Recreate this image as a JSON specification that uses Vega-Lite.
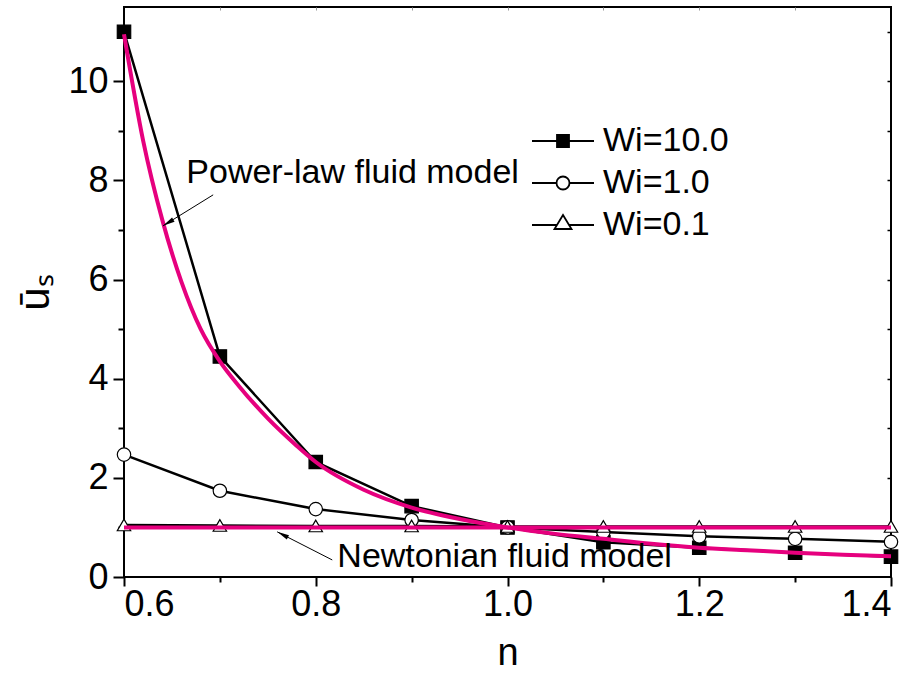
{
  "$schema": "https://vega.github.io/schema/vega-lite/v6.json",
  "autosize": "none",
  "width": 767,
  "height": 570,
  "padding": {"left": 124, "top": 7, "right": 29, "bottom": 98},
  "background": "white",
  "config": {
    "view": {"stroke": "black", "strokeWidth": 2},
    "font": "Liberation Sans",
    "axis": {"domain": false, "grid": false, "tickColor": "black", "labelColor": "black", "titleColor": "black", "labelFont": "Liberation Sans", "titleFont": "Liberation Sans", "titleFontWeight": "normal"}
  },
  "datasets": {
    "series": [
      {"n": 0.6, "u": 11.0, "Wi": "Wi=10.0"},
      {"n": 0.7, "u": 4.45, "Wi": "Wi=10.0"},
      {"n": 0.8, "u": 2.32, "Wi": "Wi=10.0"},
      {"n": 0.9, "u": 1.43, "Wi": "Wi=10.0"},
      {"n": 1.0, "u": 1.0, "Wi": "Wi=10.0"},
      {"n": 1.1, "u": 0.70, "Wi": "Wi=10.0"},
      {"n": 1.2, "u": 0.59, "Wi": "Wi=10.0"},
      {"n": 1.3, "u": 0.49, "Wi": "Wi=10.0"},
      {"n": 1.4, "u": 0.41, "Wi": "Wi=10.0"},
      {"n": 0.6, "u": 2.47, "Wi": "Wi=1.0"},
      {"n": 0.7, "u": 1.74, "Wi": "Wi=1.0"},
      {"n": 0.8, "u": 1.37, "Wi": "Wi=1.0"},
      {"n": 0.9, "u": 1.15, "Wi": "Wi=1.0"},
      {"n": 1.0, "u": 1.0, "Wi": "Wi=1.0"},
      {"n": 1.1, "u": 0.91, "Wi": "Wi=1.0"},
      {"n": 1.2, "u": 0.82, "Wi": "Wi=1.0"},
      {"n": 1.3, "u": 0.77, "Wi": "Wi=1.0"},
      {"n": 1.4, "u": 0.71, "Wi": "Wi=1.0"},
      {"n": 0.6, "u": 1.05, "Wi": "Wi=0.1"},
      {"n": 0.7, "u": 1.04, "Wi": "Wi=0.1"},
      {"n": 0.8, "u": 1.03, "Wi": "Wi=0.1"},
      {"n": 0.9, "u": 1.03, "Wi": "Wi=0.1"},
      {"n": 1.0, "u": 1.02, "Wi": "Wi=0.1"},
      {"n": 1.1, "u": 1.02, "Wi": "Wi=0.1"},
      {"n": 1.2, "u": 1.02, "Wi": "Wi=0.1"},
      {"n": 1.3, "u": 1.02, "Wi": "Wi=0.1"},
      {"n": 1.4, "u": 1.02, "Wi": "Wi=0.1"}
    ],
    "powerlaw": [
      {"n": 0.6, "u": 10.95},
      {"n": 0.62, "u": 8.8},
      {"n": 0.64, "u": 7.2},
      {"n": 0.66, "u": 5.95},
      {"n": 0.68, "u": 5.0},
      {"n": 0.7, "u": 4.35},
      {"n": 0.72, "u": 3.85},
      {"n": 0.75, "u": 3.2},
      {"n": 0.78, "u": 2.65},
      {"n": 0.8, "u": 2.32},
      {"n": 0.85, "u": 1.76},
      {"n": 0.9, "u": 1.4},
      {"n": 0.95, "u": 1.17},
      {"n": 1.0, "u": 1.0},
      {"n": 1.05, "u": 0.87},
      {"n": 1.1, "u": 0.77},
      {"n": 1.15, "u": 0.67},
      {"n": 1.2, "u": 0.59},
      {"n": 1.25, "u": 0.54},
      {"n": 1.3, "u": 0.49},
      {"n": 1.35, "u": 0.45},
      {"n": 1.4, "u": 0.42}
    ],
    "newtonian": [
      {"n": 0.6, "u": 1.0},
      {"n": 1.4, "u": 1.0}
    ],
    "notes": [
      {"key": "power", "label": "Power-law fluid model", "n": 0.665, "u": 7.94, "n1": 0.693, "u1": 7.71, "n2": 0.6407, "u2": 7.085},
      {"key": "newton", "label": "Newtonian fluid model", "n": 0.8225, "u": 0.2, "n1": 0.8172, "u1": 0.344, "n2": 0.7598, "u2": 0.911}
    ]
  },
  "resolve": {
    "scale": {"shape": "independent", "fill": "independent"},
    "axis": {"x": "independent", "y": "independent"}
  },
  "layer": [
    {
      "data": {"name": "series"},
      "mark": {"type": "line", "stroke": "black", "strokeWidth": 2.5},
      "encoding": {
        "x": {
          "field": "n", "type": "quantitative",
          "scale": {"domain": [0.6, 1.4], "nice": false, "zero": false},
          "axis": {
            "orient": "bottom", "title": "n", "titleFontSize": 38, "titlePadding": 12,
            "values": [0.6, 0.7, 0.8, 0.9, 1.0, 1.1, 1.2, 1.3, 1.4], "format": ".1f",
            "labelExpr": "round(datum.value * 10) % 2 == 0 ? datum.label : ''",
            "labelFontSize": 36, "labelPadding": 1, "tickWidth": 2,
            "tickSize": {"condition": {"test": "round(datum.value * 10) % 2 == 0", "value": 9}, "value": 5}
          }
        },
        "y": {
          "field": "u", "type": "quantitative",
          "scale": {"domain": [0, 11.5], "nice": false},
          "axis": {
            "orient": "left", "title": "ūₛ", "titleFontSize": 42, "titlePadding": 10,
            "values": [0, 1, 2, 3, 4, 5, 6, 7, 8, 9, 10, 11], "format": "d",
            "labelExpr": "datum.value % 2 == 0 ? datum.label : ''",
            "labelFontSize": 36, "labelPadding": 5, "tickWidth": 2,
            "tickSize": {"condition": {"test": "datum.value % 2 == 0", "value": 11}, "value": 6}
          }
        },
        "detail": {"field": "Wi"}
      }
    },
    {
      "data": {"name": "series"},
      "mark": {"type": "point", "filled": true, "stroke": "black", "strokeWidth": 1.2, "size": 180, "opacity": 1},
      "encoding": {
        "x": {"field": "n", "type": "quantitative", "axis": null},
        "y": {"field": "u", "type": "quantitative", "axis": null},
        "shape": {"field": "Wi", "type": "nominal", "scale": {"domain": ["Wi=10.0", "Wi=1.0", "Wi=0.1"], "range": ["square", "circle", "triangle-up"]}, "legend": null},
        "fill": {"field": "Wi", "type": "nominal", "scale": {"domain": ["Wi=10.0", "Wi=1.0", "Wi=0.1"], "range": ["black", "white", "white"]}, "legend": null}
      }
    },
    {
      "data": {"name": "powerlaw"},
      "mark": {"type": "line", "stroke": "#E6007E", "strokeWidth": 4, "interpolate": "monotone"},
      "encoding": {
        "x": {"field": "n", "type": "quantitative", "axis": null},
        "y": {"field": "u", "type": "quantitative", "axis": null}
      }
    },
    {
      "data": {"name": "newtonian"},
      "mark": {"type": "line", "stroke": "#E6007E", "strokeWidth": 4},
      "encoding": {
        "x": {"field": "n", "type": "quantitative", "axis": null},
        "y": {"field": "u", "type": "quantitative", "axis": null}
      }
    },
    {
      "data": {"name": "notes"},
      "mark": {"type": "rule", "stroke": "black", "strokeWidth": 1},
      "encoding": {
        "x": {"field": "n1", "type": "quantitative", "axis": null},
        "y": {"field": "u1", "type": "quantitative", "axis": null},
        "x2": {"field": "n2"},
        "y2": {"field": "u2"}
      }
    },
    {
      "data": {"name": "notes"},
      "mark": {"type": "point", "shape": "M0,0L0.4,2L-0.4,2Z", "filled": true, "fill": "black", "size": 144, "opacity": 1},
      "encoding": {
        "x": {"field": "n2", "type": "quantitative", "axis": null},
        "y": {"field": "u2", "type": "quantitative", "axis": null},
        "angle": {"condition": {"test": "datum.key == 'power'", "value": 239}, "value": 297}
      }
    },
    {
      "data": {"name": "notes"},
      "mark": {"type": "text", "align": "left", "baseline": "alphabetic", "fontSize": 34, "font": "Liberation Sans", "color": "black"},
      "encoding": {
        "x": {"field": "n", "type": "quantitative", "axis": null},
        "y": {"field": "u", "type": "quantitative", "axis": null},
        "text": {"field": "label"}
      }
    },
    {
      "data": {"name": "newtonian"},
      "mark": {"type": "point", "opacity": 0},
      "encoding": {
        "x": {
          "field": "n", "type": "quantitative",
          "axis": {"orient": "top", "title": null, "labels": false, "values": [0.7, 0.8, 0.9, 1.0, 1.1, 1.2, 1.3], "tickSize": -3, "tickWidth": 1, "tickColor": "#999999"}
        },
        "y": {
          "field": "u", "type": "quantitative",
          "axis": {"orient": "right", "title": null, "labels": false, "values": [1, 2, 3, 4, 5, 6, 7, 8, 9, 10, 11], "tickSize": -4, "tickWidth": 1.5}
        }
      }
    },
    {
      "data": {"name": "series"},
      "transform": [{"filter": "false"}],
      "mark": {"type": "point", "filled": true, "stroke": "black", "strokeWidth": 2, "opacity": 1},
      "encoding": {
        "x": {"field": "n", "type": "quantitative", "axis": null},
        "y": {"field": "u", "type": "quantitative", "axis": null},
        "shape": {
          "field": "Wi", "type": "nominal",
          "scale": {
            "domain": ["Wi=10.0", "Wi=1.0", "Wi=0.1"],
            "range": [
              "M-3.1,0H-0.6M0.6,0H3.1M-0.6,-0.6H0.6V0.6H-0.6Z",
              "M-3.1,0H-0.65M0.65,0H3.1M-0.65,0A0.65,0.65,0,1,0,0.65,0A0.65,0.65,0,1,0,-0.65,0Z",
              "M-3.1,0H-0.61M0.61,0H3.1M0,-1L0.85,0.4H-0.85Z"
            ]
          },
          "legend": {
            "orient": "none", "legendX": 422, "legendY": 117, "title": null, "padding": 0,
            "labelFontSize": 34, "labelFont": "Liberation Sans", "labelColor": "black", "labelOffset": 23,
            "symbolSize": 400, "symbolStrokeColor": "black", "symbolStrokeWidth": 1.8, "symbolOpacity": 1, "rowPadding": 8,
            "encode": {"symbols": {"update": {"stroke": {"value": "black"}, "strokeWidth": {"value": 1.8}, "opacity": {"value": 1}}}}
          }
        },
        "fill": {
          "field": "Wi", "type": "nominal",
          "scale": {"domain": ["Wi=10.0", "Wi=1.0", "Wi=0.1"], "range": ["black", "white", "white"]},
          "legend": {
            "orient": "none", "legendX": 422, "legendY": 117, "title": null, "padding": 0,
            "labelFontSize": 34, "labelFont": "Liberation Sans", "labelColor": "black", "labelOffset": 23,
            "symbolSize": 400, "symbolStrokeColor": "black", "symbolStrokeWidth": 1.8, "symbolOpacity": 1, "rowPadding": 8,
            "encode": {"symbols": {"update": {"stroke": {"value": "black"}, "strokeWidth": {"value": 1.8}, "opacity": {"value": 1}}}}
          }
        }
      }
    }
  ]
}
